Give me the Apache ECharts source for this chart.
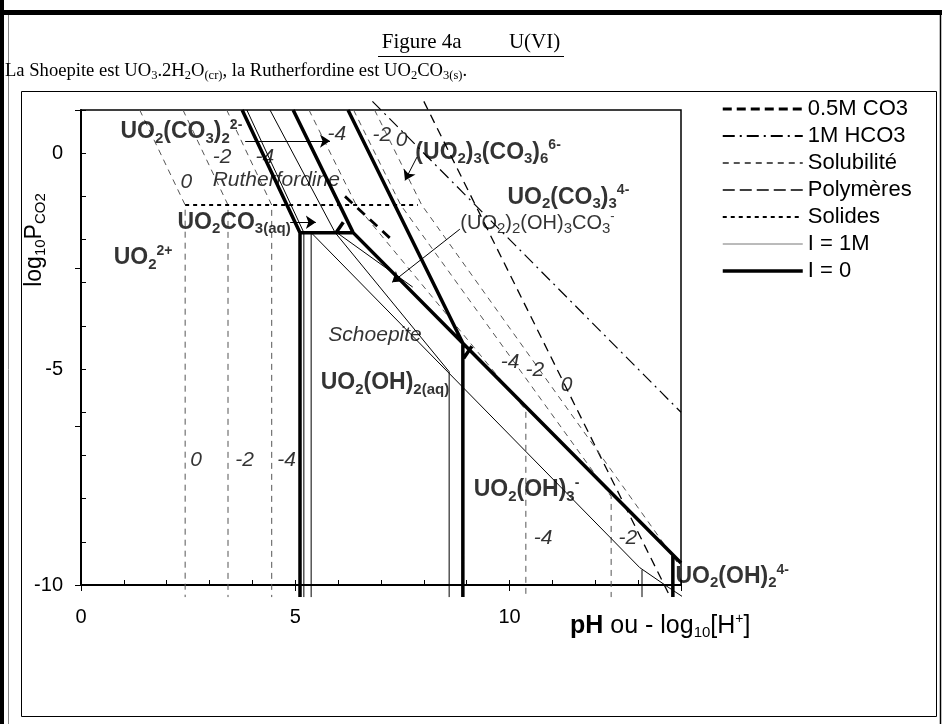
<!DOCTYPE html>
<html><head><meta charset="utf-8">
<script src="https://cdn.jsdelivr.net/npm/echarts/dist/echarts.min.js"></script>
<style>html,body{margin:0;padding:0;background:#fff}#c{width:942px;height:724px}</style>
</head><body><div id="c"></div>
<script>
// ---------- axis ranges / ticks ----------
const xRange = [0, 14];
const yRange = [-10, 1];
const xMajorTicks = [0, 5, 10];
const yMajorTicks = [0, -5, -10];

// ---------- I = 0 boundaries (thick) ----------
const i0_left  = [[3.76,1.0],[5.11,-1.84],[5.11,-10.28]];
const i0_mid   = [[4.95,1.0],[6.35,-1.84]];
const i0_floor = [[5.11,-1.84],[6.35,-1.84],[8.91,-4.40],[14.0,-9.49]];
const i0_steep = [[6.23,1.0],[8.91,-4.40],[8.91,-10.28]];
const i0_end   = [[13.81,-9.30],[13.81,-10.28]];
const i0_tick1 = [[5.95,-1.84],[6.12,-1.60]];
const i0_tick2 = [[8.93,-4.75],[9.12,-4.47]];

// ---------- I = 1M boundaries (thin) ----------
const i1_left   = [[3.87,1.0],[5.2,-1.84],[5.2,-10.28]];
const i1_inner  = [[5.37,-10.28],[5.37,-1.84],[13.04,-9.6],[13.7,-10.05],[14.05,-10.28]];
const i1_steep  = [[4.41,1.0],[5.93,-1.84],[8.59,-5.06],[8.59,-10.28]];
const i1_branch = [[5.97,-1.84],[7.74,-3.1]];
const i1_end    = [[13.09,-9.65],[13.09,-10.28]];

// ---------- solubility contours (grey dashed): log10[U] = 0, -2, -4 ----------
const sol_r0 = [[1.37,1.0],[2.43,-1.2],[2.43,-10.28]];
const sol_r2 = [[2.38,1.0],[3.43,-1.2],[3.43,-10.28]];
const sol_r4 = [[3.40,1.0],[4.45,-1.2],[4.45,-10.28]];
const sol_s4 = [[5.32,1.0],[6.42,-1.2],[10.38,-5.95],[10.38,-10.28]];
const sol_s2 = [[6.36,1.0],[7.46,-1.2],[12.37,-7.95],[12.37,-10.28]];
const sol_s0 = [[6.85,1.0],[7.95,-1.2],[14.0,-9.6]];

// ---------- other lines ----------
const co3_05M   = [[8.0,1.2],[13.75,-10.28]];
const hco3_1M   = [[6.8,1.2],[14.0,-6.0]];
const polymer   = [[6.16,-1.0],[7.3,-2.05]];
const solid_ruth= [[2.43,-1.2],[7.86,-1.2]];

// ---------- arrows (from, to) ----------
const arrows = [
  [[3.83,0.28],[5.81,0.28]],
  [[4.88,-1.6],[5.48,-1.6]],
  [[7.84,-0.09],[7.56,-0.63]],
  [[8.84,-1.76],[7.26,-2.99]]
];

// ---------- text annotations (anchor = left / vertical middle) ----------
const speciesLabels = [
  ['{b|UO}{bs|2}{b|(CO}{bs|3}{b|)}{bs|2}{bp|2-}', [0.91,0.49]],
  ['{b|UO}{bs|2}{b|CO}{bs|3(aq)}', [2.24,-1.6]],
  ['{b|UO}{bs|2}{bp|2+}', [0.75,-2.43]],
  ['{i|Rutherfordine}', [3.06,-0.63]],
  ['{b|(UO}{bs|2}{b|)}{bs|3}{b|(CO}{bs|3}{b|)}{bs|6}{bp|6-}', [7.79,0.02]],
  ['{b|UO}{bs|2}{b|(CO}{bs|3}{b|)}{bs|3}{bp|4-}', [9.94,-1.02]],
  ['{r|(UO}{rs|2}{r|)}{rs|2}{r|(OH)}{rs|3}{r|CO}{rs|3}{rp|-}', [8.84,-1.62]],
  ['{i|Schoepite}', [5.76,-4.21]],
  ['{b|UO}{bs|2}{b|(OH)}{bs|2(aq)}', [5.58,-5.32]],
  ['{b|UO}{bs|2}{b|(OH)}{bs|3}{bp|-}', [9.15,-7.8]],
  ['{b|UO}{bs|2}{b|(OH)}{bs|2}{bp|4-}', [13.86,-9.81]]
];
const contourLabels = [
  ['-2',[3.06,-0.09]],['-4',[4.06,-0.09]],['0',[2.31,-0.67]],
  ['-4',[5.74,0.44]],['-2',[6.79,0.42]],['0',[7.33,0.30]],
  ['0',[2.54,-7.1]],['-2',[3.59,-7.1]],['-4',[4.57,-7.1]],
  ['-4',[9.78,-4.84]],['-2',[10.36,-5.02]],['0',[11.18,-5.37]],
  ['-4',[10.55,-8.91]],['-2',[12.53,-8.91]]
];
const legendNames = ['0.5M CO3', '1M HCO3', 'Solubilité', 'Polymères', 'Solides', 'I = 1M', 'I = 0'];

const SANS = 'Liberation Sans';
const SERIF = 'Liberation Serif';

function join() {
  const out = [];
  for (let i = 0; i < arguments.length; i++) {
    if (i > 0) out.push(null);
    arguments[i].forEach(p => out.push(p));
  }
  return out;
}
const HIDE = { color: 'rgba(0,0,0,0)', borderColor: 'rgba(0,0,0,0)', borderWidth: 0, opacity: 0 };
const CLEAR = { color: 'rgba(0,0,0,0)', borderColor: 'rgba(0,0,0,0)', borderWidth: 0 };
function lineSeries(name, data, style) {
  return { name, type: 'line', data, symbol: 'none', clip: false, silent: true,
    connectNulls: false, animation: false, lineStyle: style, itemStyle: HIDE, z: 3 };
}

const richChem = {
  b:  { fontFamily: SANS, fontWeight: 'bold', fontSize: 23, lineHeight: 28, color: '#000', verticalAlign: 'middle' },
  bs: { fontFamily: SANS, fontWeight: 'bold', fontSize: 15, lineHeight: 15, color: '#000', verticalAlign: 'bottom' },
  bp: { fontFamily: SANS, fontWeight: 'bold', fontSize: 14, lineHeight: 14, color: '#000', verticalAlign: 'top' },
  r:  { fontFamily: SANS, fontSize: 20, lineHeight: 26, color: '#000', verticalAlign: 'middle' },
  rs: { fontFamily: SANS, fontSize: 15, lineHeight: 14, color: '#000', verticalAlign: 'bottom' },
  rp: { fontFamily: SANS, fontSize: 13, lineHeight: 13, color: '#000', verticalAlign: 'top' },
  i:  { fontFamily: SANS, fontStyle: 'italic', fontSize: 21, lineHeight: 24, color: '#000' }
};

const chart = echarts.init(document.getElementById('c'), null, { renderer: 'canvas' });

const option = {
  animation: false,
  backgroundColor: '#fff',
  grid: { left: 81, right: 261, top: 110, bottom: 139, show: true, borderColor: '#000', borderWidth: 1.5, backgroundColor: 'transparent' },
  xAxis: [
    { type: 'value', min: xRange[0], max: xRange[1], interval: 1, position: 'bottom',
      axisLine: { show: true, onZero: false, lineStyle: { color: '#000', width: 2 } },
      axisTick: { show: true, inside: true, length: 5, lineStyle: { color: '#000', width: 1 } },
      axisLabel: { margin: 22, fontFamily: SANS, fontSize: 20, color: '#000',
        formatter: v => xMajorTicks.indexOf(v) >= 0 ? String(v) : '' },
      splitLine: { show: false } },
    { type: 'value', min: xRange[0], max: xRange[1], interval: 5, position: 'bottom', gridIndex: 0,
      axisLine: { show: false, onZero: false }, axisTick: { show: true, inside: false, length: 6, lineStyle: { color: '#000' } },
      axisLabel: { show: false }, splitLine: { show: false } }
  ],
  yAxis: [
    { type: 'value', min: yRange[0], max: yRange[1], interval: 1, position: 'left',
      axisLine: { show: true, onZero: false, lineStyle: { color: '#000', width: 2 } },
      axisTick: { show: true, inside: true, length: 5, lineStyle: { color: '#000', width: 1 } },
      axisLabel: { margin: 18, fontFamily: SANS, fontSize: 20, color: '#000',
        formatter: v => yMajorTicks.indexOf(v) >= 0 ? String(v) : '' },
      splitLine: { show: false } },
    { type: 'value', min: -10, max: 5, interval: 5, position: 'left', gridIndex: 0,
      axisLine: { show: false, onZero: false }, axisTick: { show: true, inside: false, length: 6, lineStyle: { color: '#000' } },
      axisLabel: { show: false }, splitLine: { show: false } }
  ],
  legend: {
    orient: 'vertical', left: 716, top: 93, itemWidth: 80, itemHeight: 14, itemGap: 5, itemStyle: HIDE,
    textStyle: { fontFamily: SANS, fontSize: 22, color: '#000' },
    data: [
      { name: legendNames[0], lineStyle: { width: 3, type: [9, 5] } },
      { name: legendNames[1] },
      { name: legendNames[2] },
      { name: legendNames[3], lineStyle: { width: 1.6, type: [12, 5] } },
      { name: legendNames[4] },
      { name: legendNames[5], lineStyle: { color: '#777', width: 1 } },
      { name: legendNames[6], lineStyle: { width: 3.5 } }
    ],
    selectedMode: false
  },
  series: [
    lineSeries(legendNames[0], co3_05M, { color: '#000', width: 1.3, type: [9, 6] }),
    lineSeries(legendNames[1], hco3_1M, { color: '#000', width: 1.2, type: [12, 5, 2, 5] }),
    lineSeries(legendNames[2], join(sol_r0, sol_r2, sol_r4, sol_s4, sol_s2, sol_s0), { color: '#555', width: 1, type: [6, 5] }),
    lineSeries(legendNames[3], polymer, { color: '#000', width: 2.8, type: [10, 7] }),
    lineSeries(legendNames[4], solid_ruth, { color: '#000', width: 2, type: [4, 4] }),
    lineSeries(legendNames[5], join(i1_left, i1_inner, i1_steep, i1_branch, i1_end), { color: '#000', width: 1 }),
    lineSeries(legendNames[6], join(i0_left, i0_mid, i0_floor, i0_steep, i0_end, i0_tick1, i0_tick2), { color: '#000', width: 3.5 }),
    { type: 'lines', coordinateSystem: 'cartesian2d', silent: true, animation: false, z: 4,
      symbol: ['none', 'arrow'], symbolSize: 10,
      lineStyle: { color: '#000', width: 1, opacity: 1, curveness: 0 },
      data: arrows.map(a => ({ coords: a })) },
    { type: 'scatter', silent: true, symbolSize: 1, itemStyle: CLEAR, z: 6,
      data: speciesLabels.map(s => ({ value: s[1], label: { formatter: s[0] } })),
      label: { show: true, position: 'right', distance: 0, align: 'left', verticalAlign: 'middle', rich: richChem } },
    { type: 'scatter', silent: true, symbolSize: 1, itemStyle: CLEAR, z: 6,
      data: contourLabels.map(s => ({ value: s[1], label: { formatter: s[0] } })),
      label: { show: true, position: 'right', distance: 0, align: 'left', verticalAlign: 'middle',
        fontFamily: SANS, fontStyle: 'italic', fontSize: 21, color: '#000' } }
  ],
  graphic: [
    { type: 'rect', shape: { x: 0, y: 0, width: 4, height: 724 }, style: { fill: '#000' }, silent: true },
    { type: 'rect', shape: { x: 0, y: 10, width: 942, height: 5 }, style: { fill: '#000' }, silent: true },
    { type: 'line', shape: { x1: 8.5, y1: 15, x2: 8.5, y2: 724 }, style: { stroke: '#888', lineWidth: 1 }, silent: true },
    { type: 'line', shape: { x1: 940.5, y1: 15, x2: 940.5, y2: 724 }, style: { stroke: '#000', lineWidth: 1.5 }, silent: true },
    { type: 'rect', shape: { x: 21.5, y: 91.5, width: 915, height: 625 }, style: { fill: 'none', stroke: '#000', lineWidth: 1 }, silent: true },
    { type: 'text', left: 'center', top: 32, silent: true,
      style: { text: 'Figure 4a         U(VI)', font: '21px "Liberation Serif"', fill: '#000' } },
    { type: 'line', shape: { x1: 378, y1: 56.5, x2: 564, y2: 56.5 }, style: { stroke: '#000', lineWidth: 1 }, silent: true },
    { type: 'text', left: 5, top: 62, silent: true,
      style: { text: '{t|La Shoepite est UO}{s|3}{t|.2H}{s|2}{t|O}{s|(cr)}{t|, la Rutherfordine est UO}{s|2}{t|CO}{s|3(s)}{t|.}',
        rich: {
          t: { fontFamily: SERIF, fontSize: 18.6, lineHeight: 22, fill: '#000', verticalAlign: 'middle' },
          s: { fontFamily: SERIF, fontSize: 12.5, lineHeight: 12, fill: '#000', verticalAlign: 'bottom' }
        } } },
    { type: 'text', x: 35, y: 240, rotation: Math.PI / 2, silent: true,
      style: { text: '{t|log}{s|10}{t|P}{s|CO2}', align: 'center', verticalAlign: 'middle',
        rich: {
          t: { fontFamily: SANS, fontSize: 23, lineHeight: 26, fill: '#000', verticalAlign: 'middle' },
          s: { fontFamily: SANS, fontSize: 15, lineHeight: 14, fill: '#000', verticalAlign: 'bottom' }
        } } },
    { type: 'text', x: 570, y: 626, silent: true,
      style: { text: '{b|pH}{t| ou - log}{s|10}{t|[H}{p|+}{t|]}', verticalAlign: 'middle',
        rich: {
          b: { fontFamily: SANS, fontWeight: 'bold', fontSize: 25, lineHeight: 28, fill: '#000', verticalAlign: 'middle' },
          t: { fontFamily: SANS, fontSize: 25, lineHeight: 28, fill: '#000', verticalAlign: 'middle' },
          s: { fontFamily: SANS, fontSize: 15, lineHeight: 14, fill: '#000', verticalAlign: 'bottom' },
          p: { fontFamily: SANS, fontSize: 14, lineHeight: 14, fill: '#000', verticalAlign: 'top' }
        } } }
  ]
};
chart.setOption(option);
</script>
</body></html>
